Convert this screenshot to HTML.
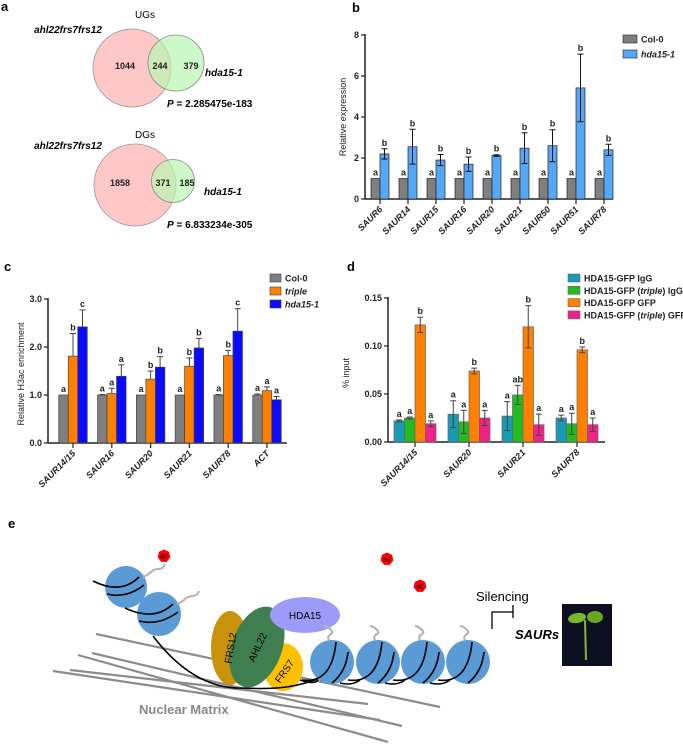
<!DOCTYPE html>
<html><head><meta charset="utf-8"><style>
html,body{margin:0;padding:0;background:#fff;}
svg{display:block;font-family:"Liberation Sans",sans-serif;}
.pl{font-size:13px;font-weight:bold;}
.t{font-size:9px;font-weight:bold;fill:#222;}
.ax{font-size:9px;fill:#222;}
</style></head><body>
<svg id="fig" width="683" height="744" viewBox="0 0 683 744" xmlns="http://www.w3.org/2000/svg">
<g>
<text class="pl" x="1" y="11">a</text>
<text x="145" y="18" font-size="10" text-anchor="middle">UGs</text>
<text x="68" y="33" font-size="10" font-weight="bold" font-style="italic" text-anchor="middle">ahl22frs7frs12</text>
<circle cx="132" cy="68" r="39" fill="#ffb5b5" fill-opacity="0.75" stroke="#999" stroke-width="0.8"/>
<circle cx="176" cy="63" r="28" fill="#b8f7b0" fill-opacity="0.7" stroke="#888" stroke-width="0.8"/>
<text x="125" y="69" class="t" font-size="10" text-anchor="middle">1044</text>
<text x="160" y="69" class="t" font-size="10" text-anchor="middle">244</text>
<text x="191" y="69" class="t" font-size="10" text-anchor="middle">379</text>
<text x="205" y="76" font-size="10" font-weight="bold" font-style="italic">hda15-1</text>
<text x="167" y="107" font-size="10" font-weight="bold"><tspan font-style="italic">P</tspan> = 2.285475e-183</text>
<text x="145" y="138" font-size="10" text-anchor="middle">DGs</text>
<text x="68" y="149" font-size="10" font-weight="bold" font-style="italic" text-anchor="middle">ahl22frs7frs12</text>
<circle cx="135" cy="185" r="41" fill="#ffb5b5" fill-opacity="0.75" stroke="#999" stroke-width="0.8"/>
<circle cx="173" cy="181" r="21.5" fill="#b8f7b0" fill-opacity="0.7" stroke="#888" stroke-width="0.8"/>
<text x="120" y="186" class="t" font-size="10" text-anchor="middle">1858</text>
<text x="163" y="186" class="t" font-size="10" text-anchor="middle">371</text>
<text x="187" y="186" class="t" font-size="10" text-anchor="middle">185</text>
<text x="204" y="195" font-size="10" font-weight="bold" font-style="italic">hda15-1</text>
<text x="167" y="228" font-size="10" font-weight="bold"><tspan font-style="italic">P</tspan> = 6.833234e-305</text>
</g>
<text class="pl" x="352" y="12">b</text>
<text class="pl" x="4" y="271">c</text>
<text class="pl" x="347" y="271">d</text>
<text class="pl" x="8" y="528">e</text>
<g id="gb"></g>
<g id="gc"></g>
<g id="gd"></g>

<g>
<g stroke="#8c8c8c" stroke-width="2.2">
<line x1="96" y1="634" x2="440" y2="707"/>
<line x1="92" y1="653" x2="402" y2="726"/>
<line x1="78" y1="655" x2="388" y2="742"/>
<line x1="70" y1="670" x2="368" y2="704"/>
<line x1="53" y1="671" x2="380" y2="720"/>
</g>
<text x="139" y="714" font-size="13" font-weight="bold" fill="#888">Nuclear Matrix</text>
<ellipse cx="230" cy="648" rx="19" ry="37" fill="#c8930a"/>
<ellipse cx="283" cy="667" rx="20" ry="24" fill="#ffc000"/>
<ellipse cx="257" cy="647" rx="25" ry="42" fill="#3f7f4f" transform="rotate(20 257 647)"/>
<ellipse cx="305" cy="615" rx="35" ry="18" fill="#9c9cf8"/>
<text x="230" y="652" font-size="10" text-anchor="middle" transform="rotate(-80 230 648)">FRS12</text>
<text x="257" y="651" font-size="10" text-anchor="middle" transform="rotate(-65 257 647)">AHL22</text>
<text x="284" y="675" font-size="10" text-anchor="middle" transform="rotate(-55 284 671)">FRS7</text>
<text x="305" y="619" font-size="10" text-anchor="middle">HDA15</text>
<path d="M153 636 C175 665 205 690 245 688 C280 690 300 686 320 678" fill="none" stroke="#000" stroke-width="1.5"/>
<g id="nucs"></g>
<text x="476" y="601" font-size="13">Silencing</text>
<path d="M492 629 V612 H513 M513 605 V618" fill="none" stroke="#000" stroke-width="1.3"/>
<text x="515" y="639" font-size="13" font-weight="bold" font-style="italic">SAURs</text>
<g>
<rect x="562" y="604" width="50" height="62" fill="#0c1020"/>
<path d="M585 620 L586 660" stroke="#8fb13a" stroke-width="2"/>
<ellipse cx="577" cy="618" rx="9" ry="5" fill="#78b82a" transform="rotate(-10 577 618)"/>
<ellipse cx="595" cy="617" rx="8" ry="6" fill="#6aa622"/>
</g>
</g>
<script>
// ===== Panel b data =====
const bCats = ["SAUR6","SAUR14","SAUR15","SAUR16","SAUR20","SAUR21","SAUR50","SAUR51","SAUR78"];
const bCol0 = [1,1,1,1,1,1,1,1,1];
const bHda = [2.2,2.55,1.9,1.7,2.12,2.48,2.6,5.42,2.4];
const bCol0Err = [0,0,0,0,0,0,0,0,0];
const bHdaErr = [0.25,0.85,0.27,0.35,0.04,0.75,0.78,1.65,0.27];
const bCol0Let = ["a","a","a","a","a","a","a","a","a"];
const bHdaLet = ["b","b","b","b","b","b","b","b","b"];
const bTicks = [0,2,4,6,8];
const bTickLabels = ["0","2","4","6","8"];
// ===== Panel c data =====
const cCats = ["SAUR14/15","SAUR16","SAUR20","SAUR21","SAUR78","ACT"];
const cCol0 = [1,1,1,1,1,1];
const cTriple = [1.81,1.03,1.33,1.6,1.82,1.09];
const cHda = [2.42,1.39,1.58,1.98,2.33,0.9];
const cCol0Err = [0,0.01,0,0,0.01,0.02];
const cTripleErr = [0.47,0.11,0.17,0.17,0.11,0.08];
const cHdaErr = [0.35,0.24,0.22,0.2,0.47,0.07];
const cCol0Let = ["a","a","a","a","a","a"];
const cTripleLet = ["b","a","b","b","b","a"];
const cHdaLet = ["c","a","b","b","c","a"];
const cTicks = [0,1,2,3];
const cTickLabels = ["0.0","1.0","2.0","3.0"];
// ===== Panel d data =====
const dCats = ["SAUR14/15","SAUR20","SAUR21","SAUR78"];
const dIgG = [0.022,0.029,0.027,0.025];
const dTripleIgG = [0.025,0.021,0.049,0.019];
const dGFP = [0.122,0.074,0.12,0.096];
const dTripleGFP = [0.019,0.025,0.018,0.018];
const dIgGErr = [0.001,0.014,0.015,0.003];
const dTripleIgGErr = [0.001,0.012,0.01,0.011];
const dGFPErr = [0.008,0.003,0.022,0.003];
const dTripleGFPErr = [0.003,0.008,0.011,0.007];
const dIgGLet = ["a","a","a","a"];
const dTripleIgGLet = ["a","a","ab","a"];
const dGFPLet = ["b","b","b","b"];
const dTripleGFPLet = ["a","a","a","a"];
const dTicks = [0,0.05,0.1,0.15];
const dTickLabels = ["0.00","0.05","0.10","0.15"];

const NS = "http://www.w3.org/2000/svg";
function mk(tag, attrs, parent){
  const e = document.createElementNS(NS, tag);
  for (const k in attrs) e.setAttribute(k, attrs[k]);
  parent.appendChild(e);
  return e;
}

function drawChart(g, cfg, cats, series, errs, lets, colors, names, ticks, tickLabels){
  const y = v => cfg.y0 - v / cfg.ymax * (cfg.y0 - cfg.y1);
  const step = (cfg.lastX - cfg.firstX) / (cats.length - 1);
  const x = i => cfg.firstX + i * step;
  const n = series.length;
  const ya = mk("line", {x1:cfg.ax, y1:cfg.y1-1, x2:cfg.ax, y2:cfg.y0, stroke:"#222", "stroke-width":1.5}, g);
  
  
  const xa = mk("line", {x1:cfg.ax, y1:cfg.y0, x2:cfg.xend, y2:cfg.y0, stroke:"#222", "stroke-width":1.5}, g);
  
  
  ticks.forEach((t, i) => {
    const tl = mk("line", {x1:cfg.ax-4, y1:y(t), x2:cfg.ax, y2:y(t), stroke:"#222", "stroke-width":1.2}, g);
    
    
    const tx = mk("text", {x:cfg.ax-6, y:y(t)+3, "text-anchor":"end", class:"t"}, g);
    tx.textContent = tickLabels[i];
    
    
  });
  cats.forEach((c, i) => {
    const tl = mk("line", {x1:x(i), y1:cfg.y0, x2:x(i), y2:cfg.y0+5, stroke:"#222", "stroke-width":1.2}, g);
    
    
    const tx = mk("text", {x:x(i)+3, y:cfg.y0+11, "text-anchor":"end", class:"t", "font-style":"italic", transform:`rotate(-45 ${x(i)+3} ${cfg.y0+11})`}, g);
    tx.textContent = c;
    
    
    for (let s = 0; s < n; s++){
      const bx = x(i) + (s - n/2) * cfg.bw;
      const v = series[s][i];
      const r = mk("rect", {x:bx, y:y(v), width:cfg.bw, height:cfg.y0 - y(v), fill:colors[s], stroke:cfg.barStroke, "stroke-width":0.7}, g);
      
      
      const e = errs[s][i];
      const cx = bx + cfg.bw/2;
      let top = y(v);
      if (e > 0){
        top = y(v + e);
        const bot = cfg.upOnly ? y(v) : y(v - e);
        const el = mk("path", {d:`M${cx} ${bot} V${top} M${cx-3} ${top} H${cx+3}` + (cfg.upOnly ? "" : ` M${cx-3} ${bot} H${cx+3}`), stroke:cfg.errColor, "stroke-width":1, fill:"none"}, g);
        
        
      }
      const lt = mk("text", {x:cx, y:top - 3, "text-anchor":"middle", class:"t"}, g);
      lt.textContent = lets[s][i];
      
      
    }
  });
  const yl = mk("text", {x:cfg.ylx, y:cfg.yly, "text-anchor":"middle", class:"ax", transform:`rotate(-90 ${cfg.ylx} ${cfg.yly})`}, g);
  yl.textContent = cfg.ylabel;
  
  
  cfg.legend.forEach((segs, s) => {
    const ly = cfg.legY + s * cfg.legStep;
    const lr = mk("rect", {x:cfg.legX, y:ly-4, width:cfg.legW, height:8, fill:colors[s], stroke:cfg.barStroke, "stroke-width":0.6}, g);
    
    
    const lx = mk("text", {x:cfg.legX + cfg.legW + 4, y:ly+3.5, class:"t"}, g);
    
    
    segs.forEach(([txt, it]) => {
      const ts = mk("tspan", it ? {"font-style":"italic"} : {}, lx);
      ts.textContent = txt;
    });
  });
}

drawChart(document.getElementById("gb"),
  {ax:365, xend:613, y0:199, y1:35, ymax:8, firstX:380, lastX:604, bw:9, barStroke:"#222", errColor:"#111", upOnly:false,
   ylabel:"Relative expression", ylx:346, yly:117, legX:623, legY:39, legStep:15, legW:14,
   legend:[[["Col-0",false]], [["hda15-1",true]]]},
  bCats, [bCol0, bHda], [bCol0Err, bHdaErr], [bCol0Let, bHdaLet], ["#7f7f7f", "#55a8f8"], ["col0","hda15"], bTicks, bTickLabels);

drawChart(document.getElementById("gc"),
  {ax:48, xend:287, y0:443, y1:299, ymax:3, firstX:73, lastX:267, bw:9.5, barStroke:"#444", errColor:"#444", upOnly:true,
   ylabel:"Relative H3ac enrichment", ylx:24, yly:374, legX:270, legY:278, legStep:13, legW:11,
   legend:[[["Col-0",false]], [["triple",true]], [["hda15-1",true]]]},
  cCats, [cCol0, cTriple, cHda], [cCol0Err, cTripleErr, cHdaErr], [cCol0Let, cTripleLet, cHdaLet], ["#7f7f7f", "#ff8000", "#0a0aff"], ["col0","triple","hda15"], cTicks, cTickLabels);

drawChart(document.getElementById("gd"),
  {ax:388, xend:605, y0:442, y1:298, ymax:0.15, firstX:415, lastX:577, bw:10.5, barStroke:"#666", errColor:"#444", upOnly:false,
   ylabel:"% input", ylx:349, yly:373, legX:568, legY:278, legStep:12.3, legW:12,
   legend:[[["HDA15-GFP IgG",false]], [["HDA15-GFP (",false],["triple",true],[") IgG",false]], [["HDA15-GFP GFP",false]], [["HDA15-GFP (",false],["triple",true],[") GFP",false]]]},
  dCats, [dIgG, dTripleIgG, dGFP, dTripleGFP], [dIgGErr, dTripleIgGErr, dGFPErr, dTripleGFPErr], [dIgGLet, dTripleIgGLet, dGFPLet, dTripleGFPLet], ["#1a9bb5", "#22bb22", "#ff8000", "#ee2288"], ["igg","triple-igg","gfp","triple-gfp"], dTicks, dTickLabels);

const ng = document.getElementById("nucs");
const nucData = [[126,587,21,"tl"],[159,614,22,"tl"],[332,662,22,"r"],[378,662,22,"r"],[423,662,22,"r"],[468,662,22,"r"]];
nucData.forEach(([cx,cy,r,kind]) => {
  const c = mk("ellipse", {cx:cx, cy:cy, rx:r, ry:r, fill:"#5b9bd5"}, ng);
  
  
  let d;
  if (kind === "tl") {
    d = `M${cx-r-12} ${cy-6} Q${cx-5} ${cy+8} ${cx+r-8} ${cy-10} M${cx-r+2} ${cy+7} Q${cx} ${cy+12} ${cx+r-3} ${cy-2}`;
  } else {
    d = `M${cx-r-8} ${cy+18} Q${cx} ${cy+22} ${cx+4} ${cy-20} M${cx} ${cy+21} Q${cx+14} ${cy+10} ${cx+16} ${cy-10}`;
  }
  const p = mk("path", {d:d, fill:"none", stroke:"#000", "stroke-width":1.6}, ng);
  
  
  const tx = kind === "tl" ? cx + r - 4 : cx - 3;
  const ty = kind === "tl" ? cy - 10 : cy - r;
  const tail = kind === "tl"
    ? `M${tx} ${ty} q5 -2 8 -5 q3 -3 8 -3 q4 0 6 -5`
    : `M${tx} ${ty} q-2 -4 2 -6 q3 -2 -1 -5 q-3 -3 -6 -3`;
  const t = mk("path", {d:tail, fill:"none", stroke:"#b5b5b5", "stroke-width":2.2}, ng);
  
  
});
const acs = [[164,556],[387,559],[420,586]];
acs.forEach(([x,y]) => {
  let pts = [];
  for (let k = 0; k < 7; k++){ const a = Math.PI*2*k/7 - Math.PI/2; pts.push((x+6.5*Math.cos(a)).toFixed(1)+","+(y+6.5*Math.sin(a)).toFixed(1)); }
  const h = mk("polygon", {points:pts.join(" "), fill:"#ff0000"}, ng);
  
  
  const tt = mk("text", {x:x, y:y+2.5, "font-size":7, "text-anchor":"middle", fill:"#000"}, ng);
  tt.textContent = "ac";
  
  
});
const link = mk("path", {d:"M300 680 Q315 685 318 680 M340 683 Q352 686 360 680 M385 683 Q397 686 405 680 M430 683 Q442 686 450 680", fill:"none", stroke:"#000", "stroke-width":1.5}, ng);


</script>
</svg>
</body></html>
